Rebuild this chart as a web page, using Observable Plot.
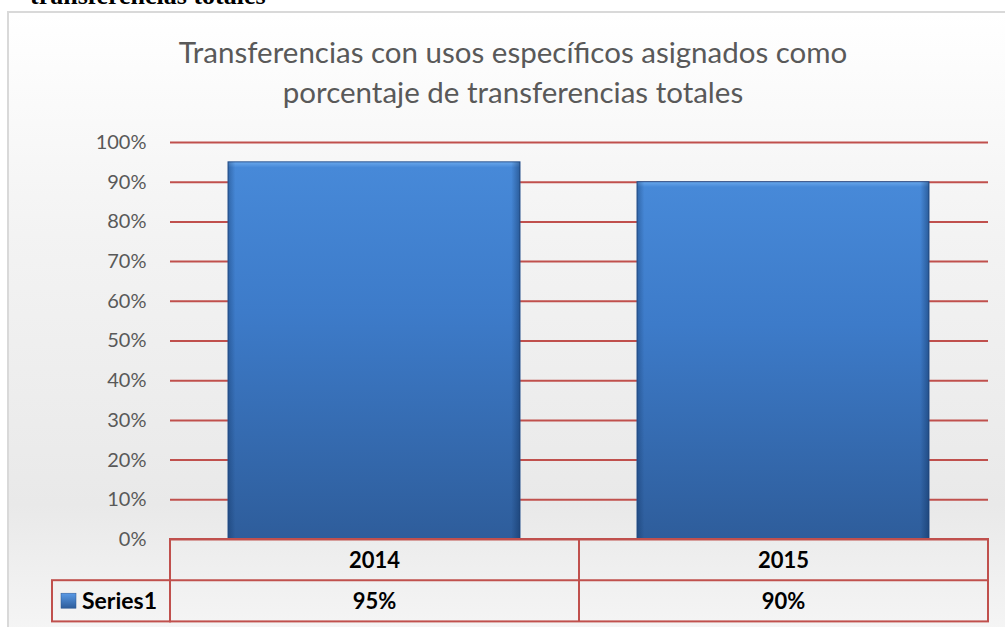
<!DOCTYPE html>
<html>
<head>
<meta charset="utf-8">
<script src="https://cdn.jsdelivr.net/npm/d3@7"></script>
<script src="https://cdn.jsdelivr.net/npm/@observablehq/plot@0.6"></script>
<style>
  html, body { margin: 0; padding: 0; background: #fff; }
  #page { position: relative; width: 1005px; height: 627px; overflow: hidden; background: #fff; }
  #frame { position: absolute; left: 7px; top: 11px; width: 1010px; height: 630px;
    border-left: 2px solid #d9d9d9; border-top: 2px solid #d9d9d9;
    background: linear-gradient(to bottom, #ffffff 0%, #f3f3f3 35%, #e9e9e9 78%, #f6f6f6 100%); }
  #cut { position: absolute; left: 30px; top: -19px; font-family: "Liberation Serif", serif; font-weight: bold;
    font-size: 26px; color: #000; white-space: nowrap; }
  #title { position: absolute; left: 0; width: 1026px; top: 32px; text-align: center; font-family: Lato, sans-serif;
    font-size: 29.5px; line-height: 40px; color: #595959; }
  #chart { position: absolute; left: 0; top: 0; }
</style>
</head>
<body>
<div id="page">
  <div id="frame"></div>
  <div id="cut">transferencias totales</div>
  <div id="title">Transferencias con usos específicos asignados como<br>porcentaje de transferencias totales</div>
  <div id="chart"></div>
</div>
<script>
const years = ["2014", "2015"];
const values = [0.95, 0.90];
const yTicks = [0, 0.1, 0.2, 0.3, 0.4, 0.5, 0.6, 0.7, 0.8, 0.9, 1.0];
const seriesName = "Series1";

const data = years.map((year, i) => ({year, value: values[i]}));
const pct = d3.format(".0%");
const red = "#c0504d";

const defs = () => {
  const ns = "http://www.w3.org/2000/svg";
  const g = document.createElementNS(ns, "defs");
  g.innerHTML = `
    <linearGradient id="barGrad" x1="0" y1="0" x2="0" y2="1">
      <stop offset="0%" stop-color="#6aa8ec"/>
      <stop offset="1.5%" stop-color="#4789d8"/>
      <stop offset="40%" stop-color="#3d7bc9"/>
      <stop offset="100%" stop-color="#2e5d9b"/>
    </linearGradient>
    <linearGradient id="sideGrad" x1="0" y1="0" x2="1" y2="0">
      <stop offset="0%" stop-color="#0b2a55" stop-opacity="0.35"/>
      <stop offset="2.5%" stop-color="#0b2a55" stop-opacity="0"/>
      <stop offset="97%" stop-color="#0b2a55" stop-opacity="0"/>
      <stop offset="100%" stop-color="#0b2a55" stop-opacity="0.45"/>
    </linearGradient>
    <linearGradient id="keyGrad" x1="0" y1="0" x2="0" y2="1">
      <stop offset="0%" stop-color="#5a9ae6"/>
      <stop offset="100%" stop-color="#2e5d9b"/>
    </linearGradient>`;
  return g;
};

const chart = Plot.plot({
  width: 1005,
  height: 627,
  marginLeft: 170,
  marginRight: 17,
  marginTop: 142,
  marginBottom: 88,
  style: {background: "transparent", fontFamily: "Lato, sans-serif", fontSize: "20px", overflow: "visible"},
  x: {domain: years, paddingInner: 0.286, paddingOuter: 0.143, axis: null},
  y: {domain: [0, 1], axis: null},
  marks: [
    defs,
    Plot.ruleY(yTicks, {stroke: red, strokeWidth: 2}),
    Plot.axisY({ticks: yTicks, tickFormat: pct, tickSize: 0, tickPadding: 24, fill: "#595959", fontSize: 20, label: null}),
    Plot.barY(data, {x: "year", y: "value", fill: "url(#barGrad)", stroke: "#2a5590", strokeWidth: 1}),
    Plot.barY(data, {x: "year", y: "value", fill: "url(#sideGrad)"}),
    Plot.text(data, {x: "year", y: 0, dy: 21, text: "year", fontWeight: "bold", fill: "#000", fontSize: 22}),
    Plot.text(data, {x: "year", y: 0, dy: 62, text: d => pct(d.value), fontWeight: "bold", fill: "#000", fontSize: 22})
  ]
});

// data table grid under the plot, positioned from Plot's scales
const xs = chart.scale("x"), ys = chart.scale("y");
const [r0, r1] = xs.range;
const cellW = (r1 - r0) / years.length;
const top0 = ys.apply(0);
const rowH = ys.apply(0) - ys.apply(0.1) + 1.5;
const legendLeft = r0 - 118;
const svg = d3.select(chart);
const tbl = svg.append("g").attr("fill", "none").attr("stroke", red).attr("stroke-width", 2);
tbl.append("rect").attr("x", r0).attr("y", top0).attr("width", r1 - r0).attr("height", rowH * 2);
tbl.append("line").attr("x1", r0).attr("x2", r1).attr("y1", top0 + rowH).attr("y2", top0 + rowH);
years.forEach((_, i) => { if (i > 0) tbl.append("line").attr("x1", r0 + i * cellW).attr("x2", r0 + i * cellW).attr("y1", top0).attr("y2", top0 + 2 * rowH); });
tbl.append("rect").attr("x", legendLeft).attr("y", top0 + rowH).attr("width", r0 - legendLeft).attr("height", rowH);
svg.append("rect").attr("x", legendLeft + 9).attr("y", top0 + rowH + 13).attr("width", 15).attr("height", 15)
  .attr("fill", "url(#keyGrad)").attr("stroke", "#2a5590").attr("stroke-width", 0.5);
svg.append("text").attr("x", legendLeft + 30).attr("y", top0 + rowH * 1.5).attr("dy", "0.35em")
  .attr("text-anchor", "start").attr("font-weight", "bold").attr("font-size", 23).attr("fill", "#000").text(seriesName);

document.getElementById("chart").append(chart);
</script>
</body>
</html>
